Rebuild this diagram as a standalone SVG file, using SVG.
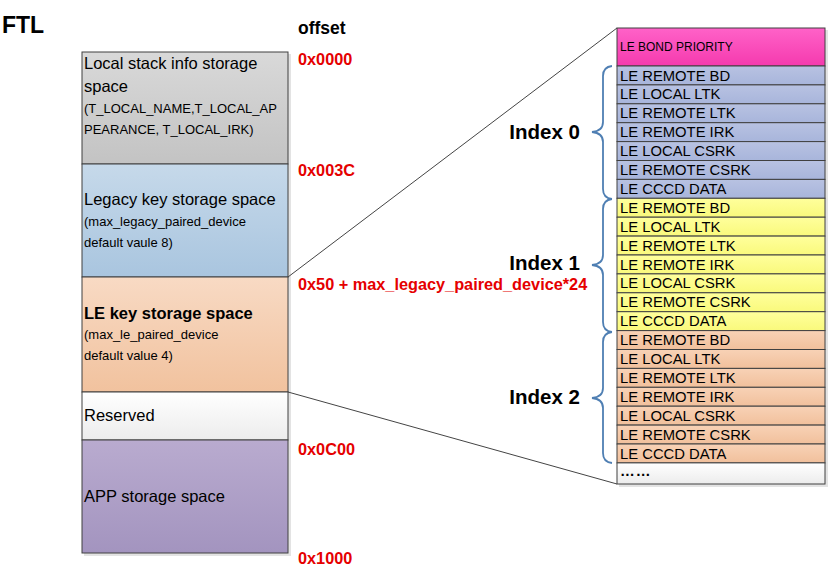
<svg xmlns="http://www.w3.org/2000/svg" width="828" height="571" viewBox="0 0 828 571">
<defs>
<linearGradient id="gGray" x1="0" y1="0" x2="0" y2="1"><stop offset="0" stop-color="#d9d9d9"/><stop offset="1" stop-color="#c3c3c3"/></linearGradient>
<linearGradient id="gBlue" x1="0" y1="0" x2="0" y2="1"><stop offset="0" stop-color="#c6d9ea"/><stop offset="1" stop-color="#a9c5df"/></linearGradient>
<linearGradient id="gOrange" x1="0" y1="0" x2="0" y2="1"><stop offset="0" stop-color="#f8dac4"/><stop offset="1" stop-color="#f1c29e"/></linearGradient>
<linearGradient id="gWhite" x1="0" y1="0" x2="0" y2="1"><stop offset="0" stop-color="#ffffff"/><stop offset="1" stop-color="#ececec"/></linearGradient>
<linearGradient id="gPurple" x1="0" y1="0" x2="0" y2="1"><stop offset="0" stop-color="#b9abcf"/><stop offset="1" stop-color="#a394bf"/></linearGradient>
<linearGradient id="gPink" x1="0" y1="0" x2="0" y2="1"><stop offset="0" stop-color="#ff62c8"/><stop offset="1" stop-color="#f53aae"/></linearGradient>
<linearGradient id="gRowB" x1="0" y1="0" x2="0" y2="1"><stop offset="0" stop-color="#b8c2e2"/><stop offset="1" stop-color="#a8b5db"/></linearGradient>
<linearGradient id="gRowY" x1="0" y1="0" x2="0" y2="1"><stop offset="0" stop-color="#ffff9c"/><stop offset="1" stop-color="#f9f97c"/></linearGradient>
<linearGradient id="gRowO" x1="0" y1="0" x2="0" y2="1"><stop offset="0" stop-color="#f8d2b6"/><stop offset="1" stop-color="#f1c09c"/></linearGradient>
</defs>
<style>
.box{stroke:#404040;stroke-width:1}
.lbl{font-family:"Liberation Sans",Arial,sans-serif;fill:#000}
.big{font-size:16.5px}
.sm{font-size:13px}
.red{font-family:"Liberation Sans",Arial,sans-serif;font-weight:bold;font-size:16.3px;fill:#e50000}
.row{font-family:"Liberation Sans",Arial,sans-serif;font-size:14.8px;fill:#000}
.idx{font-family:"Liberation Sans",Arial,sans-serif;font-weight:bold;font-size:20.5px;fill:#000;text-anchor:end}
.brace{fill:none;stroke:#4f7fb3;stroke-width:1.8}
.conn{stroke:#444;stroke-width:1;fill:none}
.shadow{fill:#e3e3e3}
</style>
<rect width="828" height="571" fill="#fff"/>

<text class="lbl" x="2" y="33" font-size="23" font-weight="bold">FTL</text>
<text class="lbl" x="298" y="34" font-size="17.5" font-weight="bold">offset</text>

<g id="left-column">
<rect class="shadow" x="84" y="54" width="207" height="502"/>
<g id="local-stack">
<rect class="box" x="82" y="52" width="206" height="112" fill="url(#gGray)"/>
<text class="lbl big" x="84" y="69">Local stack info storage</text>
<text class="lbl big" x="84" y="92">space</text>
<text class="lbl sm" x="84" y="113">(T_LOCAL_NAME,T_LOCAL_AP</text>
<text class="lbl sm" x="84" y="134">PEARANCE, T_LOCAL_IRK)</text>
</g>
<g id="legacy-key">
<rect class="box" x="82" y="164" width="206" height="113" fill="url(#gBlue)"/>
<text class="lbl big" x="84" y="205">Legacy key storage space</text>
<text class="lbl sm" x="84" y="226">(max_legacy_paired_device</text>
<text class="lbl sm" x="84" y="247">default vaule 8)</text>
</g>
<g id="le-key">
<rect class="box" x="82" y="277" width="206" height="115" fill="url(#gOrange)"/>
<text class="lbl big" x="84" y="319" font-weight="bold">LE key storage space</text>
<text class="lbl sm" x="84" y="339">(max_le_paired_device</text>
<text class="lbl sm" x="84" y="360">default value 4)</text>
</g>
<g id="reserved">
<rect class="box" x="82" y="392" width="206" height="48" fill="url(#gWhite)"/>
<text class="lbl big" x="84" y="421">Reserved</text>
</g>
<g id="app-storage">
<rect class="box" x="82" y="440" width="206" height="113" fill="url(#gPurple)"/>
<text class="lbl big" x="84" y="502">APP storage space</text>
</g>
</g>

<g id="offsets">
<text class="red" x="298" y="65">0x0000</text>
<text class="red" x="298" y="176">0x003C</text>
<text class="red" x="298" y="290">0x50 + max_legacy_paired_device*24</text>
<text class="red" x="298" y="455">0x0C00</text>
<text class="red" x="298" y="564">0x1000</text>
</g>

<g id="connectors">
<line class="conn" x1="288" y1="277" x2="617" y2="28"/>
<line class="conn" x1="288" y1="392" x2="617" y2="484"/>
</g>

<g id="right-table">
<rect class="shadow" x="619" y="30" width="209" height="457"/>
<g id="bond-priority">
<rect class="box" x="617" y="28" width="208" height="38" fill="url(#gPink)"/>
<text class="lbl" x="620" y="51" font-size="12">LE BOND PRIORITY</text>
</g>
<g id="index0-rows">
<rect class="box" x="617" y="66" width="208" height="18.9" fill="url(#gRowB)"/>
<rect class="box" x="617" y="84.9" width="208" height="18.9" fill="url(#gRowB)"/>
<rect class="box" x="617" y="103.8" width="208" height="18.9" fill="url(#gRowB)"/>
<rect class="box" x="617" y="122.7" width="208" height="18.9" fill="url(#gRowB)"/>
<rect class="box" x="617" y="141.6" width="208" height="18.9" fill="url(#gRowB)"/>
<rect class="box" x="617" y="160.5" width="208" height="18.9" fill="url(#gRowB)"/>
<rect class="box" x="617" y="179.4" width="208" height="18.9" fill="url(#gRowB)"/>
<text class="row" x="620" y="80.5">LE REMOTE BD</text>
<text class="row" x="620" y="99.4">LE LOCAL LTK</text>
<text class="row" x="620" y="118.3">LE REMOTE LTK</text>
<text class="row" x="620" y="137.2">LE REMOTE IRK</text>
<text class="row" x="620" y="156.1">LE LOCAL CSRK</text>
<text class="row" x="620" y="175">LE REMOTE CSRK</text>
<text class="row" x="620" y="193.9">LE CCCD DATA</text>
</g>
<g id="index1-rows">
<rect class="box" x="617" y="198.3" width="208" height="18.9" fill="url(#gRowY)"/>
<rect class="box" x="617" y="217.2" width="208" height="18.9" fill="url(#gRowY)"/>
<rect class="box" x="617" y="236.1" width="208" height="18.9" fill="url(#gRowY)"/>
<rect class="box" x="617" y="255" width="208" height="18.9" fill="url(#gRowY)"/>
<rect class="box" x="617" y="273.9" width="208" height="18.9" fill="url(#gRowY)"/>
<rect class="box" x="617" y="292.8" width="208" height="18.9" fill="url(#gRowY)"/>
<rect class="box" x="617" y="311.7" width="208" height="18.9" fill="url(#gRowY)"/>
<text class="row" x="620" y="212.8">LE REMOTE BD</text>
<text class="row" x="620" y="231.7">LE LOCAL LTK</text>
<text class="row" x="620" y="250.6">LE REMOTE LTK</text>
<text class="row" x="620" y="269.5">LE REMOTE IRK</text>
<text class="row" x="620" y="288.4">LE LOCAL CSRK</text>
<text class="row" x="620" y="307.3">LE REMOTE CSRK</text>
<text class="row" x="620" y="326.2">LE CCCD DATA</text>
</g>
<g id="index2-rows">
<rect class="box" x="617" y="330.6" width="208" height="18.9" fill="url(#gRowO)"/>
<rect class="box" x="617" y="349.5" width="208" height="18.9" fill="url(#gRowO)"/>
<rect class="box" x="617" y="368.4" width="208" height="18.9" fill="url(#gRowO)"/>
<rect class="box" x="617" y="387.3" width="208" height="18.9" fill="url(#gRowO)"/>
<rect class="box" x="617" y="406.2" width="208" height="18.9" fill="url(#gRowO)"/>
<rect class="box" x="617" y="425.1" width="208" height="18.9" fill="url(#gRowO)"/>
<rect class="box" x="617" y="444" width="208" height="18.9" fill="url(#gRowO)"/>
<text class="row" x="620" y="345.1">LE REMOTE BD</text>
<text class="row" x="620" y="364">LE LOCAL LTK</text>
<text class="row" x="620" y="382.9">LE REMOTE LTK</text>
<text class="row" x="620" y="401.8">LE REMOTE IRK</text>
<text class="row" x="620" y="420.7">LE LOCAL CSRK</text>
<text class="row" x="620" y="439.6">LE REMOTE CSRK</text>
<text class="row" x="620" y="458.5">LE CCCD DATA</text>
</g>
<g id="more-rows">
<rect class="box" x="617" y="462.9" width="208" height="21.1" fill="url(#gWhite)"/>
<text class="row" x="620" y="476" font-size="19" font-weight="bold" letter-spacing="1">……</text>
</g>
</g>

<g id="index0">
<path class="brace" d="M612,66 Q603,67 603,76 L603,122 Q603,131 592,132 Q603,133 603,142 L603,189 Q603,198 612,199"/>
<text class="idx" x="580" y="139">Index 0</text>
</g>
<g id="index1">
<path class="brace" d="M612,199 Q603,200 603,209 L603,255 Q603,264 592,265 Q603,266 603,275 L603,322 Q603,331 612,332"/>
<text class="idx" x="580" y="270">Index 1</text>
</g>
<g id="index2">
<path class="brace" d="M612,332 Q603,333 603,342 L603,388 Q603,397 592,398 Q603,399 603,408 L603,453 Q603,462 612,463"/>
<text class="idx" x="580" y="404">Index 2</text>
</g>
</svg>
